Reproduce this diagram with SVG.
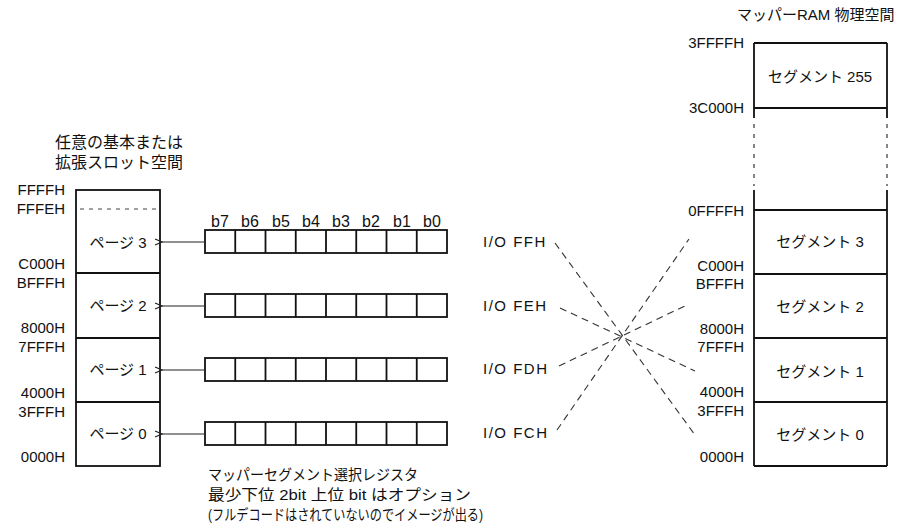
<svg xmlns="http://www.w3.org/2000/svg" width="907" height="526" viewBox="0 0 907 526">
<defs>
<style>
text{font-family:"Liberation Sans","Noto Sans CJK JP",sans-serif;fill:#111;}
.hex{font-size:15px;text-anchor:end;}
.lbl{font-size:15px;text-anchor:middle;}
.bit{font-size:16px;text-anchor:middle;}
.jp{font-size:15px;}
.ttl{font-size:16px;}
.io{font-size:15px;letter-spacing:1.5px;}
.box{fill:none;stroke:#111;stroke-width:1.8;}
.ln{stroke:#111;stroke-width:1.8;fill:none;}
.arr{stroke:#222;stroke-width:1.1;fill:none;}
.dash{stroke:#333;stroke-width:1.1;stroke-dasharray:7 5;fill:none;}
.dot{stroke:#444;stroke-width:1.3;stroke-dasharray:4 6;fill:none;}
</style>
<marker id="ah" markerWidth="10" markerHeight="8" refX="1" refY="4" orient="auto" markerUnits="userSpaceOnUse">
<path d="M8,1 L1,4 L8,7" fill="none" stroke="#222" stroke-width="1.1"/>
</marker>
</defs>

<g id="slot-space">
<text class="ttl" x="55" y="148">任意の基本または</text>
<text class="ttl" x="55" y="168">拡張スロット空間</text>
<rect class="box" x="76" y="190" width="84" height="276"/>
<line x1="80" y1="209" x2="158" y2="209" stroke="#444" stroke-width="1.1" stroke-dasharray="4 5"/>
<line class="ln" x1="76" y1="273" x2="160" y2="273"/>
<line class="ln" x1="76" y1="338" x2="160" y2="338"/>
<line class="ln" x1="76" y1="402" x2="160" y2="402"/>
<text class="hex" x="65" y="195">FFFFH</text>
<text class="hex" x="65" y="214">FFFEH</text>
<text class="hex" x="65" y="269">C000H</text>
<text class="hex" x="65" y="288">BFFFH</text>
<text class="hex" x="65" y="333">8000H</text>
<text class="hex" x="65" y="352">7FFFH</text>
<text class="hex" x="65" y="398">4000H</text>
<text class="hex" x="65" y="417">3FFFH</text>
<text class="hex" x="65" y="462">0000H</text>
<text class="lbl" x="118" y="248">ページ 3</text>
<text class="lbl" x="118" y="311">ページ 2</text>
<text class="lbl" x="118" y="375">ページ 1</text>
<text class="lbl" x="118" y="439">ページ 0</text>
</g>

<g id="registers">
<text class="bit" x="220" y="227">b7</text>
<text class="bit" x="250" y="227">b6</text>
<text class="bit" x="281" y="227">b5</text>
<text class="bit" x="311" y="227">b4</text>
<text class="bit" x="341" y="227">b3</text>
<text class="bit" x="371" y="227">b2</text>
<text class="bit" x="402" y="227">b1</text>
<text class="bit" x="432" y="227">b0</text>
<g id="reg3">
<rect class="box" x="205" y="230" width="242" height="23"/>
<path class="ln" d="M235.25,230V253M265.5,230V253M295.75,230V253M326,230V253M356.25,230V253M386.5,230V253M416.75,230V253"/>
</g>
<g id="reg2">
<rect class="box" x="205" y="294" width="242" height="23"/>
<path class="ln" d="M235.25,294V317M265.5,294V317M295.75,294V317M326,294V317M356.25,294V317M386.5,294V317M416.75,294V317"/>
</g>
<g id="reg1">
<rect class="box" x="205" y="358" width="242" height="23"/>
<path class="ln" d="M235.25,358V381M265.5,358V381M295.75,358V381M326,358V381M356.25,358V381M386.5,358V381M416.75,358V381"/>
</g>
<g id="reg0">
<rect class="box" x="205" y="422" width="242" height="23"/>
<path class="ln" d="M235.25,422V445M265.5,422V445M295.75,422V445M326,422V445M356.25,422V445M386.5,422V445M416.75,422V445"/>
</g>
<text class="jp" x="208" y="480" textLength="210" lengthAdjust="spacingAndGlyphs">マッパーセグメント選択レジスタ</text>
<text class="jp" x="208" y="500" textLength="263" lengthAdjust="spacingAndGlyphs">最少下位 2bit 上位 bit はオプション</text>
<text class="jp" x="208" y="520" textLength="275" lengthAdjust="spacingAndGlyphs">(フルデコードはされていないのでイメージが出る)</text>
</g>

<g id="io-ports">
<text class="io" x="483" y="247">I/O FFH</text>
<text class="io" x="483" y="311">I/O FEH</text>
<text class="io" x="483" y="374">I/O FDH</text>
<text class="io" x="483" y="438">I/O FCH</text>
</g>

<g id="mapper-ram">
<text font-size="15" x="737" y="20">マッパーRAM 物理空間</text>
<path class="ln" d="M754,43H887M754,108H887M754,210H887M754,274H887M754,338H887M754,402H887M754,466H887"/>
<path class="ln" d="M754,43V118M887,43V118M754,190V466M887,190V466"/>
<path class="dot" d="M754,124V186M887,124V186"/>
<text class="hex" x="744" y="48">3FFFFH</text>
<text class="hex" x="744" y="113">3C000H</text>
<text class="hex" x="744" y="216">0FFFFH</text>
<text class="hex" x="744" y="271">C000H</text>
<text class="hex" x="744" y="289">BFFFH</text>
<text class="hex" x="744" y="334">8000H</text>
<text class="hex" x="744" y="352">7FFFH</text>
<text class="hex" x="744" y="397">4000H</text>
<text class="hex" x="744" y="416">3FFFH</text>
<text class="hex" x="744" y="462">0000H</text>
<text class="lbl" x="820" y="82">セグメント 255</text>
<text class="lbl" x="820" y="247">セグメント 3</text>
<text class="lbl" x="820" y="312">セグメント 2</text>
<text class="lbl" x="820" y="377">セグメント 1</text>
<text class="lbl" x="820" y="440">セグメント 0</text>
</g>

<g id="connectors">
<line class="arr" x1="204" y1="242" x2="162" y2="242" marker-end="url(#ah)"/>
<line class="arr" x1="204" y1="306" x2="162" y2="306" marker-end="url(#ah)"/>
<line class="arr" x1="204" y1="370" x2="162" y2="370" marker-end="url(#ah)"/>
<line class="arr" x1="204" y1="434" x2="162" y2="434" marker-end="url(#ah)"/>
<line class="dash" x1="555" y1="243" x2="695" y2="435"/>
<line class="dash" x1="560" y1="308" x2="695" y2="371"/>
<line class="dash" x1="559" y1="366" x2="689" y2="304"/>
<line class="dash" x1="557" y1="430" x2="689" y2="239"/>
</g>
</svg>
